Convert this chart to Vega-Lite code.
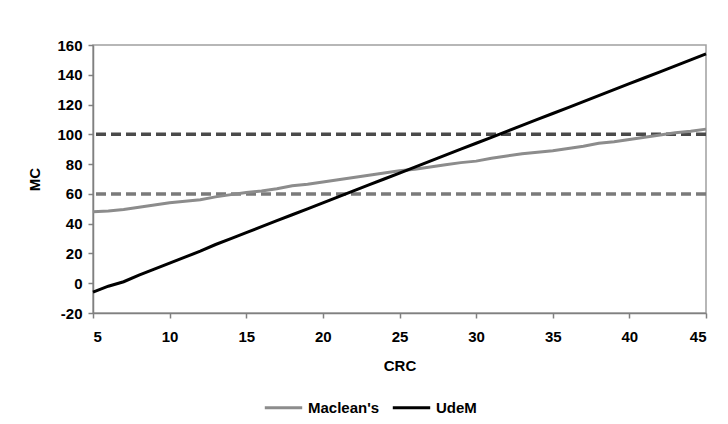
{
  "$schema": "https://vega.github.io/schema/vega-lite/v6.json",
  "width": 613,
  "height": 268,
  "autosize": {"type": "none"},
  "padding": {"left": 93, "top": 45, "right": 22, "bottom": 111},
  "background": "white",
  "config": {
    "view": {"stroke": "#a0a0a0", "strokeWidth": 1.5},
    "font": "Liberation Sans",
    "axis": {
      "labelFont": "Liberation Sans",
      "labelFontWeight": "bold",
      "labelFontSize": 15,
      "labelColor": "#000",
      "labelOverlap": false,
      "titleFont": "Liberation Sans",
      "titleFontWeight": "bold",
      "titleFontSize": 15,
      "titleColor": "#000",
      "domainColor": "#808080",
      "domainWidth": 1.5,
      "tickColor": "#808080",
      "tickWidth": 1.5,
      "tickSize": 5,
      "grid": false
    }
  },
  "datasets": {
    "lines": [
      {"crc": 5, "mc": 48, "series": "Maclean's"},
      {"crc": 6, "mc": 48.5, "series": "Maclean's"},
      {"crc": 7, "mc": 49.5, "series": "Maclean's"},
      {"crc": 8, "mc": 51, "series": "Maclean's"},
      {"crc": 9, "mc": 52.5, "series": "Maclean's"},
      {"crc": 10, "mc": 54, "series": "Maclean's"},
      {"crc": 11, "mc": 55, "series": "Maclean's"},
      {"crc": 12, "mc": 56, "series": "Maclean's"},
      {"crc": 13, "mc": 58, "series": "Maclean's"},
      {"crc": 14, "mc": 59.5, "series": "Maclean's"},
      {"crc": 15, "mc": 61, "series": "Maclean's"},
      {"crc": 16, "mc": 62, "series": "Maclean's"},
      {"crc": 17, "mc": 63.5, "series": "Maclean's"},
      {"crc": 18, "mc": 65.5, "series": "Maclean's"},
      {"crc": 19, "mc": 66.5, "series": "Maclean's"},
      {"crc": 20, "mc": 68, "series": "Maclean's"},
      {"crc": 21, "mc": 69.5, "series": "Maclean's"},
      {"crc": 22, "mc": 71, "series": "Maclean's"},
      {"crc": 23, "mc": 72.5, "series": "Maclean's"},
      {"crc": 24, "mc": 74, "series": "Maclean's"},
      {"crc": 25, "mc": 75.5, "series": "Maclean's"},
      {"crc": 26, "mc": 76.5, "series": "Maclean's"},
      {"crc": 27, "mc": 78, "series": "Maclean's"},
      {"crc": 28, "mc": 79.5, "series": "Maclean's"},
      {"crc": 29, "mc": 81, "series": "Maclean's"},
      {"crc": 30, "mc": 82, "series": "Maclean's"},
      {"crc": 31, "mc": 84, "series": "Maclean's"},
      {"crc": 32, "mc": 85.5, "series": "Maclean's"},
      {"crc": 33, "mc": 87, "series": "Maclean's"},
      {"crc": 34, "mc": 88, "series": "Maclean's"},
      {"crc": 35, "mc": 89, "series": "Maclean's"},
      {"crc": 36, "mc": 90.5, "series": "Maclean's"},
      {"crc": 37, "mc": 92, "series": "Maclean's"},
      {"crc": 38, "mc": 94, "series": "Maclean's"},
      {"crc": 39, "mc": 95, "series": "Maclean's"},
      {"crc": 40, "mc": 96.5, "series": "Maclean's"},
      {"crc": 41, "mc": 98, "series": "Maclean's"},
      {"crc": 42, "mc": 99.5, "series": "Maclean's"},
      {"crc": 43, "mc": 101, "series": "Maclean's"},
      {"crc": 44, "mc": 102, "series": "Maclean's"},
      {"crc": 45, "mc": 103.5, "series": "Maclean's"},
      {"crc": 5, "mc": -6, "series": "UdeM"},
      {"crc": 6, "mc": -2, "series": "UdeM"},
      {"crc": 7, "mc": 1, "series": "UdeM"},
      {"crc": 8, "mc": 5.5, "series": "UdeM"},
      {"crc": 9, "mc": 9.5, "series": "UdeM"},
      {"crc": 10, "mc": 13.5, "series": "UdeM"},
      {"crc": 11, "mc": 17.5, "series": "UdeM"},
      {"crc": 12, "mc": 21.5, "series": "UdeM"},
      {"crc": 13, "mc": 26, "series": "UdeM"},
      {"crc": 14, "mc": 30, "series": "UdeM"},
      {"crc": 15, "mc": 34, "series": "UdeM"},
      {"crc": 16, "mc": 38, "series": "UdeM"},
      {"crc": 17, "mc": 42, "series": "UdeM"},
      {"crc": 18, "mc": 46, "series": "UdeM"},
      {"crc": 19, "mc": 50, "series": "UdeM"},
      {"crc": 20, "mc": 54, "series": "UdeM"},
      {"crc": 21, "mc": 58, "series": "UdeM"},
      {"crc": 22, "mc": 62, "series": "UdeM"},
      {"crc": 23, "mc": 66, "series": "UdeM"},
      {"crc": 24, "mc": 70, "series": "UdeM"},
      {"crc": 25, "mc": 74, "series": "UdeM"},
      {"crc": 26, "mc": 78, "series": "UdeM"},
      {"crc": 27, "mc": 82, "series": "UdeM"},
      {"crc": 28, "mc": 86, "series": "UdeM"},
      {"crc": 29, "mc": 90, "series": "UdeM"},
      {"crc": 30, "mc": 94, "series": "UdeM"},
      {"crc": 31, "mc": 98, "series": "UdeM"},
      {"crc": 32, "mc": 102, "series": "UdeM"},
      {"crc": 33, "mc": 106, "series": "UdeM"},
      {"crc": 34, "mc": 110, "series": "UdeM"},
      {"crc": 35, "mc": 114, "series": "UdeM"},
      {"crc": 36, "mc": 118, "series": "UdeM"},
      {"crc": 37, "mc": 122, "series": "UdeM"},
      {"crc": 38, "mc": 126, "series": "UdeM"},
      {"crc": 39, "mc": 130, "series": "UdeM"},
      {"crc": 40, "mc": 134, "series": "UdeM"},
      {"crc": 41, "mc": 138, "series": "UdeM"},
      {"crc": 42, "mc": 142, "series": "UdeM"},
      {"crc": 43, "mc": 146, "series": "UdeM"},
      {"crc": 44, "mc": 150, "series": "UdeM"},
      {"crc": 45, "mc": 154, "series": "UdeM"}
    ],
    "thresholds": [
      {"level": 60, "kind": "lower"},
      {"level": 100, "kind": "upper"}
    ]
  },
  "encoding": {
    "y": {
      "type": "quantitative",
      "title": "MC",
      "scale": {"domain": [-20, 160], "nice": false},
      "axis": {
        "values": [-20, 0, 20, 40, 60, 80, 100, 120, 140, 160],
        "labelExpr": "replace(datum.label, '−', '-')",
        "labelOverlap": false,
        "labelPadding": 6,
        "titlePadding": 14
      }
    }
  },
  "layer": [
    {
      "data": {"name": "thresholds"},
      "mark": {"type": "rule", "strokeWidth": 3.5, "strokeDash": [10, 5]},
      "encoding": {
        "y": {"field": "level", "type": "quantitative"},
        "color": {
          "field": "kind",
          "type": "nominal",
          "scale": {"domain": ["lower", "upper"], "range": ["#7a7a7a", "#4a4a4a"]},
          "legend": null
        }
      }
    },
    {
      "data": {"name": "lines"},
      "mark": {"type": "line", "strokeWidth": 3},
      "encoding": {
        "x": {
          "field": "crc",
          "type": "quantitative",
          "title": "CRC",
          "scale": {"domain": [5, 45], "nice": false},
          "axis": {"values": [5, 10, 15, 20, 25, 30, 35, 40, 45], "labelPadding": 11, "titlePadding": 14}
        },
        "y": {"field": "mc", "type": "quantitative"},
        "stroke": {
          "field": "series",
          "type": "nominal",
          "scale": {"domain": ["Maclean's", "UdeM"], "range": ["#8c8c8c", "#000000"]},
          "legend": {
            "title": null,
            "orient": "none",
            "direction": "horizontal",
            "legendX": 170,
            "legendY": 342,
            "symbolType": "stroke",
            "symbolSize": 1400,
            "symbolStrokeWidth": 3,
            "labelFont": "Liberation Sans",
            "labelFontWeight": "bold",
            "labelFontSize": 15,
            "labelColor": "#000",
            "columnPadding": 6,
            "labelOffset": 4
          }
        }
      }
    }
  ]
}
